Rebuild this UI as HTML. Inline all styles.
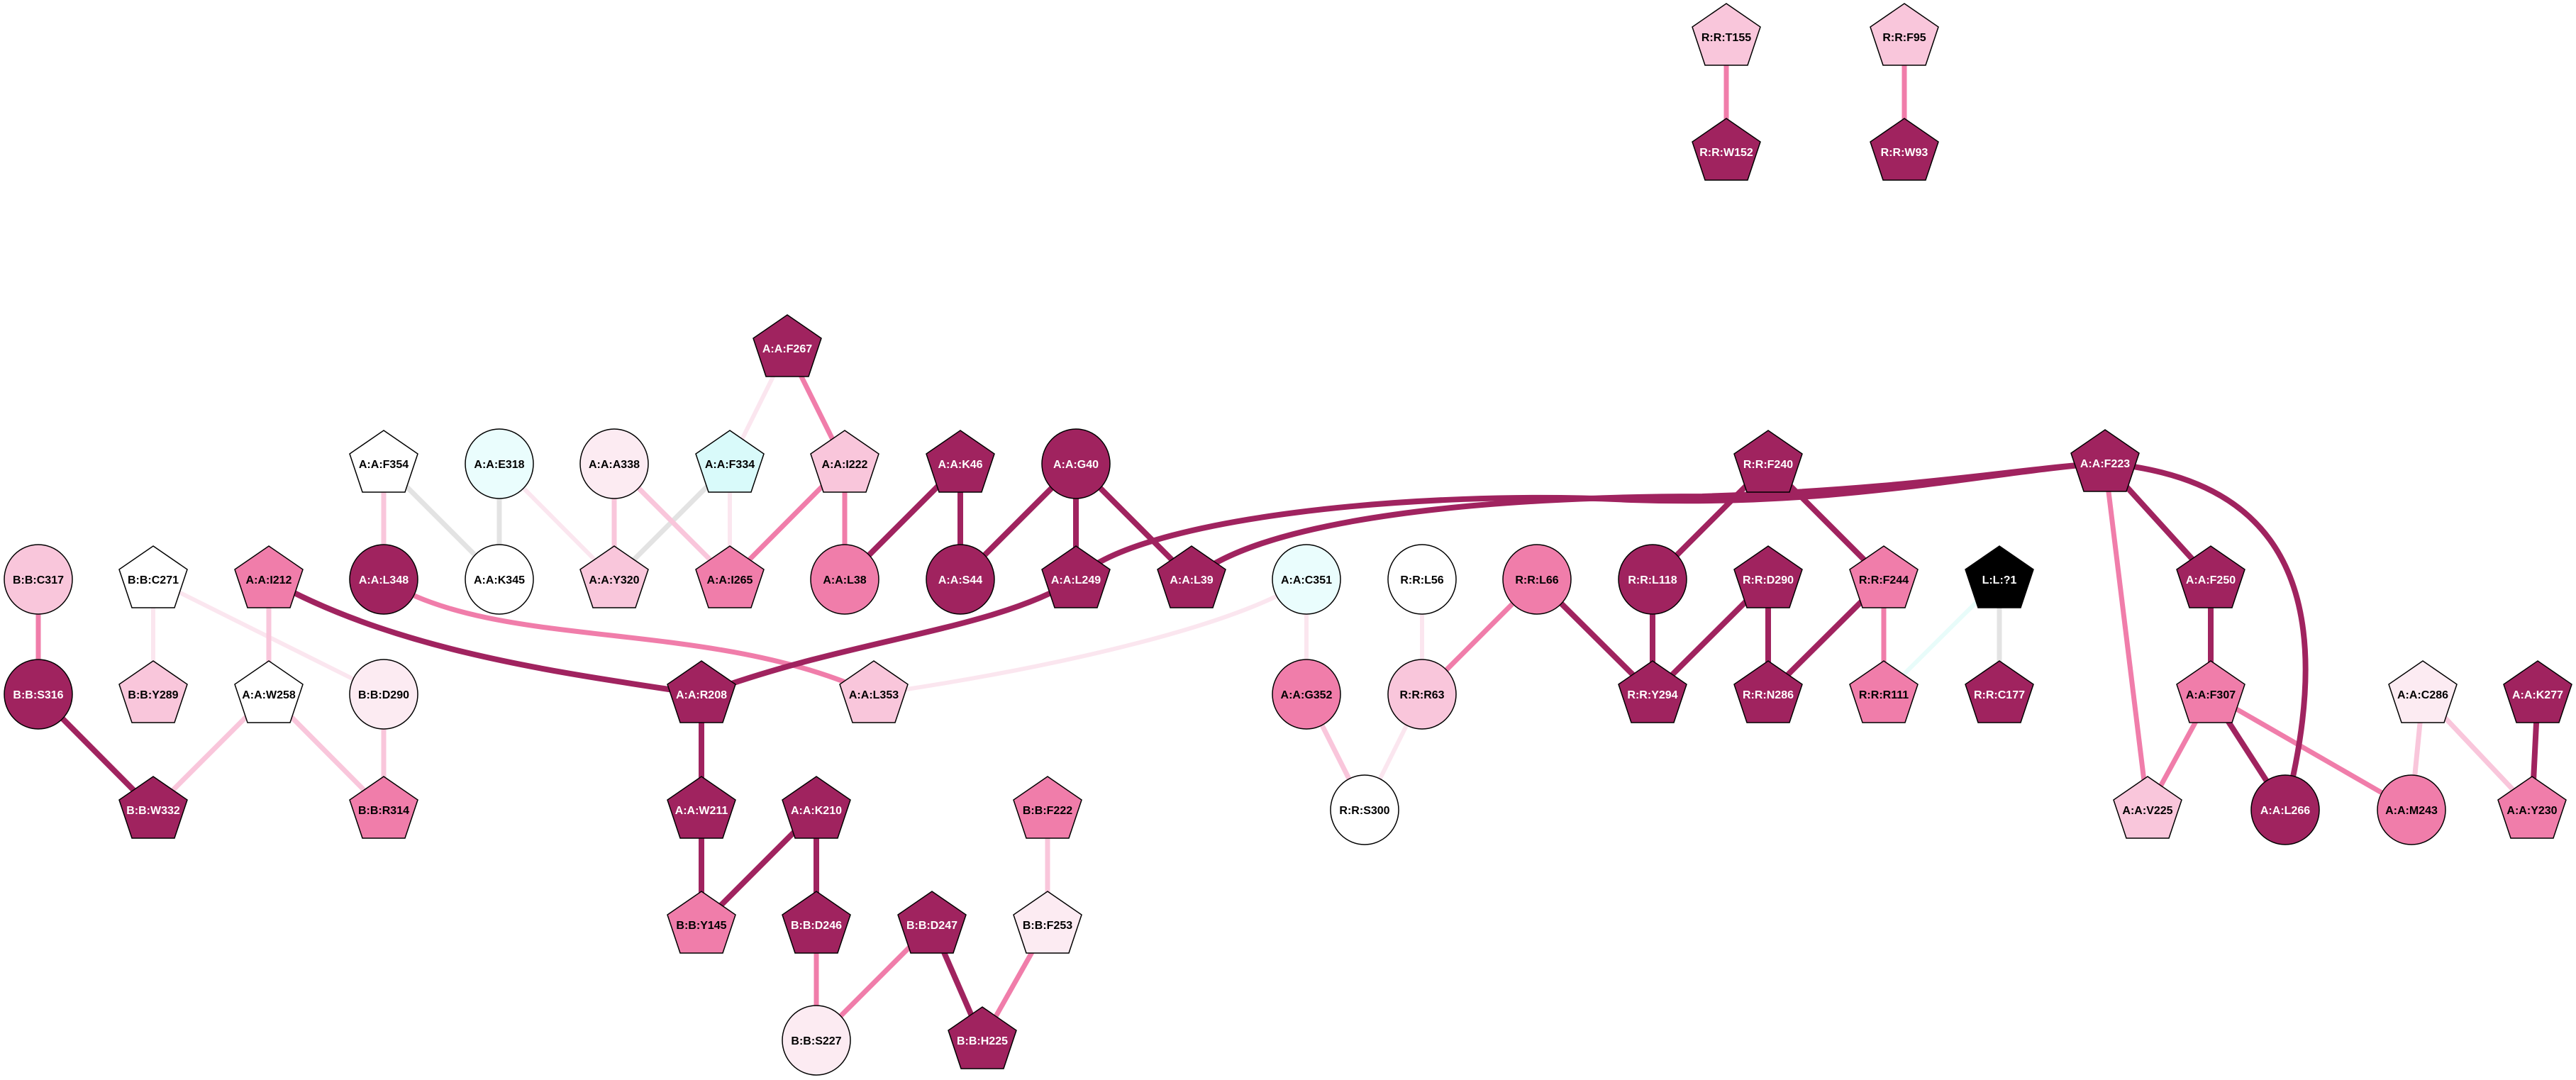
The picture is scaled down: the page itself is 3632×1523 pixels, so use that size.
<!DOCTYPE html>
<html><head><meta charset="utf-8"><style>html,body{margin:0;padding:0;background:#fff}svg{display:block}</style></head><body>
<svg xmlns="http://www.w3.org/2000/svg" width="3632" height="1523" viewBox="0 0 3632 1523">
<defs>
<polygon id="p" points="0,-47 48,-14 30,40 -30,40 -48,-14" stroke="#000" stroke-width="1.5"/>
</defs>
<g fill="none" stroke-linecap="butt">
<g stroke="#FBE6EF" stroke-width="6">
<line x1="1110" y1="491" x2="1029" y2="654"/>
<line x1="1029" y1="654" x2="1029" y2="817"/>
<line x1="704" y1="654" x2="866" y2="817"/>
<line x1="216" y1="817" x2="216" y2="979"/>
<line x1="216" y1="817" x2="541" y2="979"/>
<line x1="1842" y1="817" x2="1842" y2="979"/>
<line x1="2005" y1="817" x2="2005" y2="979"/>
<line x1="2005" y1="979" x2="1924" y2="1142"/>
<path d="M1232,979 C1500,940 1750,880 1842,817"/>
</g>
<g stroke="#E8FCFA" stroke-width="6"><line x1="2819" y1="817" x2="2656" y2="979"/></g>
<g stroke="#E3E3E3" stroke-width="7">
<line x1="541" y1="654" x2="704" y2="817"/>
<line x1="704" y1="654" x2="704" y2="817"/>
<line x1="1029" y1="654" x2="866" y2="817"/>
<line x1="2819" y1="817" x2="2819" y2="979"/>
</g>
<g stroke="#F9C6DB" stroke-width="7">
<line x1="541" y1="654" x2="541" y2="817"/>
<line x1="866" y1="654" x2="866" y2="817"/>
<line x1="866" y1="654" x2="1029" y2="817"/>
<line x1="379" y1="817" x2="379" y2="979"/>
<line x1="379" y1="979" x2="216" y2="1142"/>
<line x1="379" y1="979" x2="541" y2="1142"/>
<line x1="541" y1="979" x2="541" y2="1142"/>
<line x1="1477" y1="1142" x2="1477" y2="1304"/>
<line x1="1842" y1="979" x2="1924" y2="1142"/>
<line x1="3416" y1="979" x2="3400" y2="1142"/>
<line x1="3416" y1="979" x2="3570" y2="1142"/>
</g>
<g stroke="#F07DAA" stroke-width="7">
<line x1="1110" y1="491" x2="1191" y2="654"/>
<line x1="1191" y1="654" x2="1029" y2="817"/>
<line x1="1191" y1="654" x2="1191" y2="817"/>
<line x1="54" y1="817" x2="54" y2="979"/>
<line x1="1151" y1="1304" x2="1151" y2="1467"/>
<line x1="1314" y1="1304" x2="1151" y2="1467"/>
<line x1="1477" y1="1304" x2="1385" y2="1467"/>
<line x1="2167" y1="817" x2="2005" y2="979"/>
<line x1="2656" y1="817" x2="2656" y2="979"/>
<line x1="2968" y1="653" x2="3028" y2="1142"/>
<line x1="3117" y1="979" x2="3028" y2="1142"/>
<line x1="3117" y1="979" x2="3400" y2="1142"/>
<line x1="2434" y1="52" x2="2434" y2="214"/>
<line x1="2685" y1="52" x2="2685" y2="214"/>
<path d="M541,817 C700,920 1000,870 1232,979"/>
</g>
<g stroke="#A0235F" stroke-width="8">
<line x1="1354" y1="654" x2="1191" y2="817"/>
<line x1="1354" y1="654" x2="1354" y2="817"/>
<line x1="1517" y1="654" x2="1354" y2="817"/>
<line x1="1517" y1="654" x2="1517" y2="817"/>
<line x1="1517" y1="654" x2="1680" y2="817"/>
<line x1="54" y1="979" x2="216" y2="1142"/>
<line x1="989" y1="979" x2="989" y2="1142"/>
<line x1="989" y1="1142" x2="989" y2="1304"/>
<line x1="1151" y1="1142" x2="989" y2="1304"/>
<line x1="1151" y1="1142" x2="1151" y2="1304"/>
<line x1="1314" y1="1304" x2="1385" y2="1467"/>
<line x1="2167" y1="817" x2="2330" y2="979"/>
<line x1="2493" y1="654" x2="2330" y2="817"/>
<line x1="2493" y1="654" x2="2656" y2="817"/>
<line x1="2330" y1="817" x2="2330" y2="979"/>
<line x1="2493" y1="817" x2="2330" y2="979"/>
<line x1="2493" y1="817" x2="2493" y2="979"/>
<line x1="2656" y1="817" x2="2493" y2="979"/>
<line x1="2968" y1="653" x2="3117" y2="817"/>
<line x1="3117" y1="817" x2="3117" y2="979"/>
<line x1="3117" y1="979" x2="3222" y2="1142"/>
<line x1="3578" y1="979" x2="3570" y2="1142"/>
<path d="M379,817 C560,920 800,950 989,979"/>
<path d="M989,979 C1200,900 1400,890 1517,817"/>
<path d="M1517,817 C1600,730 2000,690 2300,705 C2600,715 2800,665 2968,653"/>
<path d="M1680,817 C1780,730 2100,700 2400,700 C2700,690 2850,660 2968,653"/>
<path d="M2968,653 C3150,670 3320,760 3222,1142"/>
</g>
</g>
<g font-family="Liberation Sans, Arial, sans-serif" font-weight="bold" font-size="16" text-anchor="middle">
<g stroke="#000" stroke-width="1.5">
<ellipse cx="54" cy="817" rx="48" ry="49" fill="#F9C6DB"/>
<ellipse cx="54" cy="979" rx="48" ry="49" fill="#A0235F"/>
<ellipse cx="541" cy="817" rx="48" ry="49" fill="#A0235F"/>
<ellipse cx="704" cy="817" rx="48" ry="49" fill="#fff"/>
<ellipse cx="704" cy="654" rx="48" ry="49" fill="#EAFDFD"/>
<ellipse cx="866" cy="654" rx="48" ry="49" fill="#FCEBF2"/>
<ellipse cx="1191" cy="817" rx="48" ry="49" fill="#F07DAA"/>
<ellipse cx="1354" cy="817" rx="48" ry="49" fill="#A0235F"/>
<ellipse cx="1517" cy="654" rx="48" ry="49" fill="#A0235F"/>
<ellipse cx="1842" cy="817" rx="48" ry="49" fill="#EAFDFD"/>
<ellipse cx="2005" cy="817" rx="48" ry="49" fill="#fff"/>
<ellipse cx="2167" cy="817" rx="48" ry="49" fill="#F07DAA"/>
<ellipse cx="2330" cy="817" rx="48" ry="49" fill="#A0235F"/>
<ellipse cx="1842" cy="979" rx="48" ry="49" fill="#F07DAA"/>
<ellipse cx="2005" cy="979" rx="48" ry="49" fill="#F9C6DB"/>
<ellipse cx="1924" cy="1142" rx="48" ry="49" fill="#fff"/>
<ellipse cx="541" cy="979" rx="48" ry="49" fill="#FCEBF2"/>
<ellipse cx="1151" cy="1467" rx="48" ry="49" fill="#FCEBF2"/>
<ellipse cx="3222" cy="1142" rx="48" ry="49" fill="#A0235F"/>
<ellipse cx="3400" cy="1142" rx="48" ry="49" fill="#F07DAA"/>
</g>
<g>
<use href="#p" x="1110" y="491" fill="#A0235F"/>
<use href="#p" x="541" y="654" fill="#fff"/>
<use href="#p" x="1029" y="654" fill="#D9FAFA"/>
<use href="#p" x="1191" y="654" fill="#F9C6DB"/>
<use href="#p" x="1354" y="654" fill="#A0235F"/>
<use href="#p" x="2493" y="654" fill="#A0235F"/>
<use href="#p" x="2968" y="653" fill="#A0235F"/>
<use href="#p" x="216" y="817" fill="#fff"/>
<use href="#p" x="379" y="817" fill="#F07DAA"/>
<use href="#p" x="866" y="817" fill="#F9C6DB"/>
<use href="#p" x="1029" y="817" fill="#F07DAA"/>
<use href="#p" x="1517" y="817" fill="#A0235F"/>
<use href="#p" x="1680" y="817" fill="#A0235F"/>
<use href="#p" x="2493" y="817" fill="#A0235F"/>
<use href="#p" x="2656" y="817" fill="#F07DAA"/>
<use href="#p" x="2819" y="817" fill="#000"/>
<use href="#p" x="3117" y="817" fill="#A0235F"/>
<use href="#p" x="216" y="979" fill="#F9C6DB"/>
<use href="#p" x="379" y="979" fill="#fff"/>
<use href="#p" x="989" y="979" fill="#A0235F"/>
<use href="#p" x="1232" y="979" fill="#F9C6DB"/>
<use href="#p" x="2330" y="979" fill="#A0235F"/>
<use href="#p" x="2493" y="979" fill="#A0235F"/>
<use href="#p" x="2656" y="979" fill="#F07DAA"/>
<use href="#p" x="2819" y="979" fill="#A0235F"/>
<use href="#p" x="3117" y="979" fill="#F07DAA"/>
<use href="#p" x="3416" y="979" fill="#FCEBF2"/>
<use href="#p" x="3578" y="979" fill="#A0235F"/>
<use href="#p" x="216" y="1142" fill="#A0235F"/>
<use href="#p" x="541" y="1142" fill="#F07DAA"/>
<use href="#p" x="989" y="1142" fill="#A0235F"/>
<use href="#p" x="1151" y="1142" fill="#A0235F"/>
<use href="#p" x="1477" y="1142" fill="#F07DAA"/>
<use href="#p" x="3028" y="1142" fill="#F9C6DB"/>
<use href="#p" x="3570" y="1142" fill="#F07DAA"/>
<use href="#p" x="989" y="1304" fill="#F07DAA"/>
<use href="#p" x="1151" y="1304" fill="#A0235F"/>
<use href="#p" x="1314" y="1304" fill="#A0235F"/>
<use href="#p" x="1477" y="1304" fill="#FCEBF2"/>
<use href="#p" x="1385" y="1467" fill="#A0235F"/>
<use href="#p" x="2434" y="52" fill="#F9C6DB"/>
<use href="#p" x="2685" y="52" fill="#F9C6DB"/>
<use href="#p" x="2434" y="214" fill="#A0235F"/>
<use href="#p" x="2685" y="214" fill="#A0235F"/>
</g>
<g fill="#fff">
<text x="1110" y="497">A:A:F267</text>
<text x="1354" y="660">A:A:K46</text>
<text x="1517" y="660">A:A:G40</text>
<text x="2493" y="660">R:R:F240</text>
<text x="2968" y="659">A:A:F223</text>
<text x="541" y="823">A:A:L348</text>
<text x="1354" y="823">A:A:S44</text>
<text x="1517" y="823">A:A:L249</text>
<text x="1680" y="823">A:A:L39</text>
<text x="2330" y="823">R:R:L118</text>
<text x="2493" y="823">R:R:D290</text>
<text x="2819" y="823">L:L:?1</text>
<text x="3117" y="823">A:A:F250</text>
<text x="54" y="985">B:B:S316</text>
<text x="989" y="985">A:A:R208</text>
<text x="2330" y="985">R:R:Y294</text>
<text x="2493" y="985">R:R:N286</text>
<text x="2819" y="985">R:R:C177</text>
<text x="3578" y="985">A:A:K277</text>
<text x="216" y="1148">B:B:W332</text>
<text x="989" y="1148">A:A:W211</text>
<text x="1151" y="1148">A:A:K210</text>
<text x="3222" y="1148">A:A:L266</text>
<text x="1151" y="1310">B:B:D246</text>
<text x="1314" y="1310">B:B:D247</text>
<text x="1385" y="1473">B:B:H225</text>
<text x="2434" y="220">R:R:W152</text>
<text x="2685" y="220">R:R:W93</text>
</g>
<g fill="#000">
<text x="541" y="660">A:A:F354</text>
<text x="704" y="660">A:A:E318</text>
<text x="866" y="660">A:A:A338</text>
<text x="1029" y="660">A:A:F334</text>
<text x="1191" y="660">A:A:I222</text>
<text x="54" y="823">B:B:C317</text>
<text x="216" y="823">B:B:C271</text>
<text x="379" y="823">A:A:I212</text>
<text x="704" y="823">A:A:K345</text>
<text x="866" y="823">A:A:Y320</text>
<text x="1029" y="823">A:A:I265</text>
<text x="1191" y="823">A:A:L38</text>
<text x="1842" y="823">A:A:C351</text>
<text x="2005" y="823">R:R:L56</text>
<text x="2167" y="823">R:R:L66</text>
<text x="2656" y="823">R:R:F244</text>
<text x="216" y="985">B:B:Y289</text>
<text x="379" y="985">A:A:W258</text>
<text x="541" y="985">B:B:D290</text>
<text x="1232" y="985">A:A:L353</text>
<text x="1842" y="985">A:A:G352</text>
<text x="2005" y="985">R:R:R63</text>
<text x="2656" y="985">R:R:R111</text>
<text x="3117" y="985">A:A:F307</text>
<text x="3416" y="985">A:A:C286</text>
<text x="541" y="1148">B:B:R314</text>
<text x="1477" y="1148">B:B:F222</text>
<text x="1924" y="1148">R:R:S300</text>
<text x="3028" y="1148">A:A:V225</text>
<text x="3400" y="1148">A:A:M243</text>
<text x="3570" y="1148">A:A:Y230</text>
<text x="989" y="1310">B:B:Y145</text>
<text x="1477" y="1310">B:B:F253</text>
<text x="1151" y="1473">B:B:S227</text>
<text x="2434" y="58">R:R:T155</text>
<text x="2685" y="58">R:R:F95</text>
</g>
</g>
</svg>
</body></html>
